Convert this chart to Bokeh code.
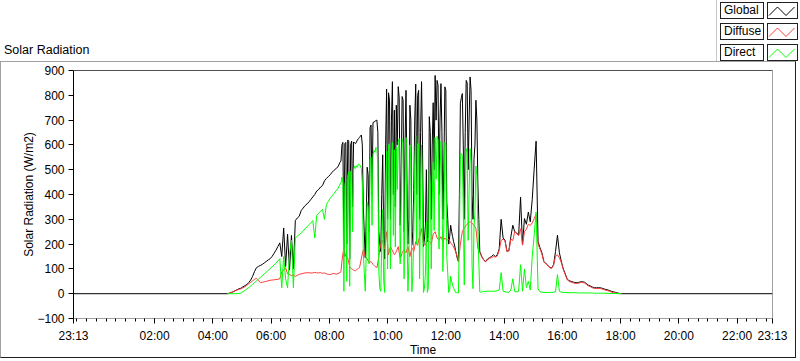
from bokeh.plotting import figure
from bokeh.layouts import column
from bokeh.models import Range1d, FixedTicker, Span, Div
from bokeh.embed import file_html
from bokeh.resources import INLINE

# ---------------- sampling grid: (first sample, step in minutes, number of samples) ----------------
GRID_SEGMENTS = [("04:30", 4, 59), ("08:24", 2, 145), ("13:14", 4, 73)]
AXIS_START = "23:13"          # previous day
AXIS_END = "23:13"            # same clock time, next day

# ---------------- data (W/m2) ----------------
global_wm2 = [
    # 04:30-08:22 (4 min)
    0, 2, 5, 8, 12, 16, 20, 22, 28, 32,
    37, 45, 55, 70, 90, 105, 110, 114, 118, 124,
    130, 136, 141, 150, 162, 175, 190, 205, 150, 265,
    110, 240, 95, 235, 100, 295, 305, 312, 335, 345,
    355, 362, 370, 380, 390, 400, 414, 420, 430, 436,
    455, 465, 472, 480, 490, 498, 505, 512, 530,
    # 08:24-13:12 (2 min)
    535, 600, 610, 150, 605, 610, 200, 620, 615, 140,
    600, 615, 350, 612, 608, 605, 612, 620, 625, 630,
    635, 640, 600, 350, 250, 145, 300, 510, 480, 250,
    670, 680, 400, 690, 692, 695, 698, 700, 650, 250,
    200, 170, 400, 560, 250, 140, 600, 825, 300, 810,
    780, 300, 700, 855, 400, 740, 350, 760, 600, 835,
    790, 276, 500, 795, 780, 250, 600, 820, 450, 200,
    300, 760, 700, 196, 250, 420, 700, 845, 400, 800,
    820, 300, 650, 855, 600, 190, 220, 276, 500, 210,
    240, 714, 650, 300, 600, 770, 500, 880, 700, 860,
    840, 400, 700, 847, 650, 300, 500, 834, 820, 369,
    300, 200, 230, 276, 250, 230, 210, 196, 175, 157,
    140, 130, 400, 768, 790, 807, 600, 300, 650, 860,
    850, 500, 700, 874, 820, 400, 300, 542, 600, 780,
    700, 450, 300, 170, 160,
    # 13:14-18:02 (4 min)
    150, 137, 130, 140, 145, 150, 157, 150, 157,
    180, 300, 225, 215, 170, 175, 230, 276, 250, 245,
    236, 389, 196, 303, 280, 329, 290, 380, 502, 615,
    210, 185, 165, 130, 122, 115, 106, 104, 117, 170,
    236, 165, 130, 100, 80, 60, 52, 50, 47, 45,
    44, 46, 48, 48, 46, 40, 34, 31, 27, 24,
    24, 24, 24, 22, 19, 17, 15, 12, 9, 7,
    5, 3, 1, 0,
]

diffuse_wm2 = [
    0, 2, 5, 8, 12, 15, 18, 20, 24, 28,
    34, 40, 46, 52, 58, 62, 52, 45, 46, 48,
    50, 52, 54, 55, 56, 57, 58, 60, 88, 95,
    105, 80, 77, 73, 75, 70, 74, 78, 80, 82,
    84, 84, 85, 83, 84, 86, 84, 84, 85, 82,
    84, 80, 78, 77, 80, 82, 78, 82, 84,
    90, 130, 160, 183, 165, 150, 150, 143, 125, 110,
    105, 100, 98, 95, 93, 92, 96, 100, 102, 105,
    120, 143, 160, 177, 165, 150, 145, 140, 132, 125,
    128, 130, 124, 118, 114, 110, 108, 105, 125, 150,
    180, 200, 210, 216, 195, 180, 215, 250, 200, 157,
    175, 190, 180, 175, 165, 157, 162, 170, 180, 190,
    165, 143, 150, 165, 172, 177, 170, 165, 178, 190,
    170, 150, 168, 185, 178, 170, 190, 210, 200, 195,
    215, 230, 245, 263, 230, 200, 198, 196, 210, 223,
    215, 210, 205, 200, 220, 240, 245, 250, 238, 225,
    220, 216, 223, 230, 220, 210, 218, 225, 220, 215,
    218, 220, 212, 205, 200, 196, 188, 180, 170, 160,
    145, 130, 165, 200, 225, 250, 258, 265, 270, 276,
    280, 285, 288, 290, 288, 285, 280, 275, 270, 263,
    225, 183, 174, 165, 158,
    150, 135, 128, 137, 143, 145, 150, 148, 152,
    175, 215, 220, 212, 170, 172, 220, 215, 250, 242,
    235, 262, 196, 250, 260, 280, 275, 285, 303, 320,
    200, 180, 160, 128, 120, 113, 105, 102, 115, 150,
    157, 145, 125, 98, 77, 57, 49, 47, 44, 42,
    41, 43, 45, 45, 43, 37, 31, 28, 24, 21,
    21, 21, 21, 19, 16, 14, 12, 9, 6, 4,
    3, 1, 0, 0,
]

direct_wm2 = [
    0, 0, 0, 0, 0, 0, 1, 3, 8, 13,
    19, 25, 31, 38, 45, 52, 59, 66, 73, 80,
    87, 94, 101, 108, 115, 123, 132, 141, 24, 150,
    60, 24, 160, 216, 24, 225, 232, 238, 245, 252,
    262, 270, 278, 286, 295, 225, 316, 325, 332, 340,
    300, 360, 372, 385, 395, 405, 415, 425, 442,
    445, 470, 450, 10, 440, 460, 50, 475, 490, 30,
    495, 490, 250, 500, 515, 505, 516, 510, 523, 520,
    515, 505, 440, 170, 85, 10, 155, 370, 348, 120,
    542, 550, 276, 560, 578, 570, 590, 585, 525, 90,
    20, 10, 190, 340, 55, 5, 385, 575, 100, 600,
    605, 100, 520, 610, 235, 580, 188, 590, 420, 615,
    625, 120, 350, 625, 608, 60, 430, 630, 272, 10,
    130, 600, 532, 8, 72, 250, 510, 635, 200, 605,
    605, 60, 405, 600, 370, 5, 22, 80, 290, 5,
    25, 500, 445, 100, 380, 530, 255, 630, 462, 635,
    620, 180, 477, 615, 430, 90, 282, 610, 600, 150,
    82, 5, 18, 70, 50, 35, 22, 15, 5, 5,
    3, 3, 235, 565, 565, 555, 342, 35, 380, 585,
    570, 215, 412, 585, 532, 115, 20, 265, 330, 515,
    475, 260, 126, 8, 5,
    8, 8, 10, 10, 10, 10, 10, 10, 12,
    15, 85, 10, 8, 6, 6, 15, 60, 8, 8,
    10, 117, 10, 100, 25, 50, 15, 150, 236, 329,
    20, 8, 6, 5, 5, 5, 5, 5, 6, 8,
    77, 10, 6, 5, 5, 4, 4, 4, 4, 4,
    4, 3, 3, 3, 3, 3, 3, 3, 2, 2,
    2, 2, 2, 2, 2, 2, 1, 1, 1, 1,
    1, 1, 0, 0,
]

Y_TICKS = [-100, 0, 100, 200, 300, 400, 500, 600, 700, 800, 900]
X_TICK_LABELS = ["23:13", "02:00", "04:00", "06:00", "08:00", "10:00",
                 "12:00", "14:00", "16:00", "18:00", "20:00", "22:00", "23:13"]
MINOR_TICK_MIN = 20
SERIES_NAMES = ["Global", "Diffuse", "Direct"]
SERIES_COLORS = ["#000000", "#ff3c3c", "#00ff00"]
CHART_TITLE = "Solar Radiation"


def hm(s):
    h, m = s.split(":")
    return int(h) * 60 + int(m)


# x coordinate: minutes elapsed since the axis start (23:13 of the previous day)
t0 = hm(AXIS_START)
span_min = 24 * 60


def elapsed(clock):
    return (hm(clock) - t0) % span_min


x_day = []
for first, step, count in GRID_SEGMENTS:
    x_day += [elapsed(first) + step * i for i in range(count)]

# Global is logged all night (0 W/m2); Diffuse/Direct only during the day
series_x = [[0] + x_day + [span_min], x_day, x_day]
series_y = [[0] + global_wm2 + [0], diffuse_wm2, direct_wm2]

major_x = [0] + [elapsed(lbl) for lbl in X_TICK_LABELS[1:-1]] + [span_min]
overrides = {mx: lbl for mx, lbl in zip(major_x, X_TICK_LABELS)}
first_minor = (MINOR_TICK_MIN - t0 % MINOR_TICK_MIN) % MINOR_TICK_MIN
minor_x = list(range(first_minor, span_min, MINOR_TICK_MIN))

FONT = "Liberation Sans"
FS = "12px"

# ---------------- header strip: title + legend (HTML) ----------------
rows_html = ""
for k, (name, col) in enumerate(zip(SERIES_NAMES, SERIES_COLORS)):
    top = 2 + 21 * k
    rows_html += (
        f'<div style="position:absolute;left:720px;top:{top}px;width:44px;height:17px;'
        f'box-sizing:border-box;border:1px solid #202020;background:#fff;'
        f'padding-left:3px;line-height:15px;white-space:nowrap;font-size:12px;">{name}</div>'
        f'<svg style="position:absolute;left:767px;top:{top}px;" width="31" height="17">'
        f'<rect x="0.5" y="0.5" width="30" height="16" fill="#fff" stroke="#202020"/>'
        f'<polyline points="2,13.5 10.5,5 19,13.5 27.5,5" fill="none" '
        f'stroke="{col}" stroke-width="1"/></svg>'
    )
head_html = (
    f'<div style="position:relative;width:800px;height:61px;overflow:hidden;'
    f'font-family:\'{FONT}\';color:#000;background:#fff;">'
    f'<span style="position:absolute;left:4px;top:43px;font-size:12.5px;'
    f'line-height:15px;white-space:nowrap;">{CHART_TITLE}</span>'
    f'<div style="position:absolute;left:716px;top:0px;width:84px;height:61px;'
    f'border-left:1px solid #c8c8c8;background:#fff;"></div>'
    f'{rows_html}</div>'
)
head = Div(text=head_html, width=800, height=61, margin=0)

# ---------------- main chart ----------------
p = figure(width=796, height=297, output_backend="svg", toolbar_location=None,
           x_range=Range1d(0, span_min), y_range=Range1d(-100, 900),
           min_border_left=72, min_border_right=25, min_border_top=8,
           min_border_bottom=38)
p.styles = {"border-style": "solid", "border-width": "1px",
            "border-color": "#a0a0a0 #202020 #202020 #a0a0a0"}
p.background_fill_color = "white"
p.border_fill_color = "white"
p.xgrid.visible = False
p.ygrid.visible = False
p.outline_line_color = "#a0a0a0"
p.outline_line_width = 1

for xs, ys, col in zip(series_x, series_y, SERIES_COLORS):
    p.line(xs, ys, line_color=col, line_width=1)

p.add_layout(Span(location=900, dimension="width", line_color="black", line_width=1))

xa = p.xaxis[0]
xa.ticker = FixedTicker(ticks=major_x, minor_ticks=minor_x)
xa.major_label_overrides = overrides
xa.axis_line_color = "#a0a0a0"
xa.major_tick_in = 0
xa.major_tick_out = 5
xa.minor_tick_in = 0
xa.minor_tick_out = 3
xa.major_tick_line_color = "black"
xa.minor_tick_line_color = "black"
xa.major_label_standoff = 5
xa.axis_label = "Time"
xa.axis_label_standoff = -3

ya = p.yaxis[0]
ya.ticker = FixedTicker(ticks=Y_TICKS)
ya.axis_line_color = "black"
ya.major_tick_in = 0
ya.major_tick_out = 5
ya.minor_tick_line_color = None
ya.major_label_standoff = 4
ya.axis_label = "Solar Radiation (W/m2)"
ya.axis_label_standoff = -2

for ax in (xa, ya):
    ax.major_label_text_font = FONT
    ax.major_label_text_font_size = FS
    ax.major_label_text_color = "black"
    ax.axis_label_text_font = FONT
    ax.axis_label_text_font_size = FS
    ax.axis_label_text_font_style = "normal"
    ax.axis_label_text_color = "black"

layout = column(head, p, spacing=0)
open("out.html", "w").write(file_html(layout, INLINE))
